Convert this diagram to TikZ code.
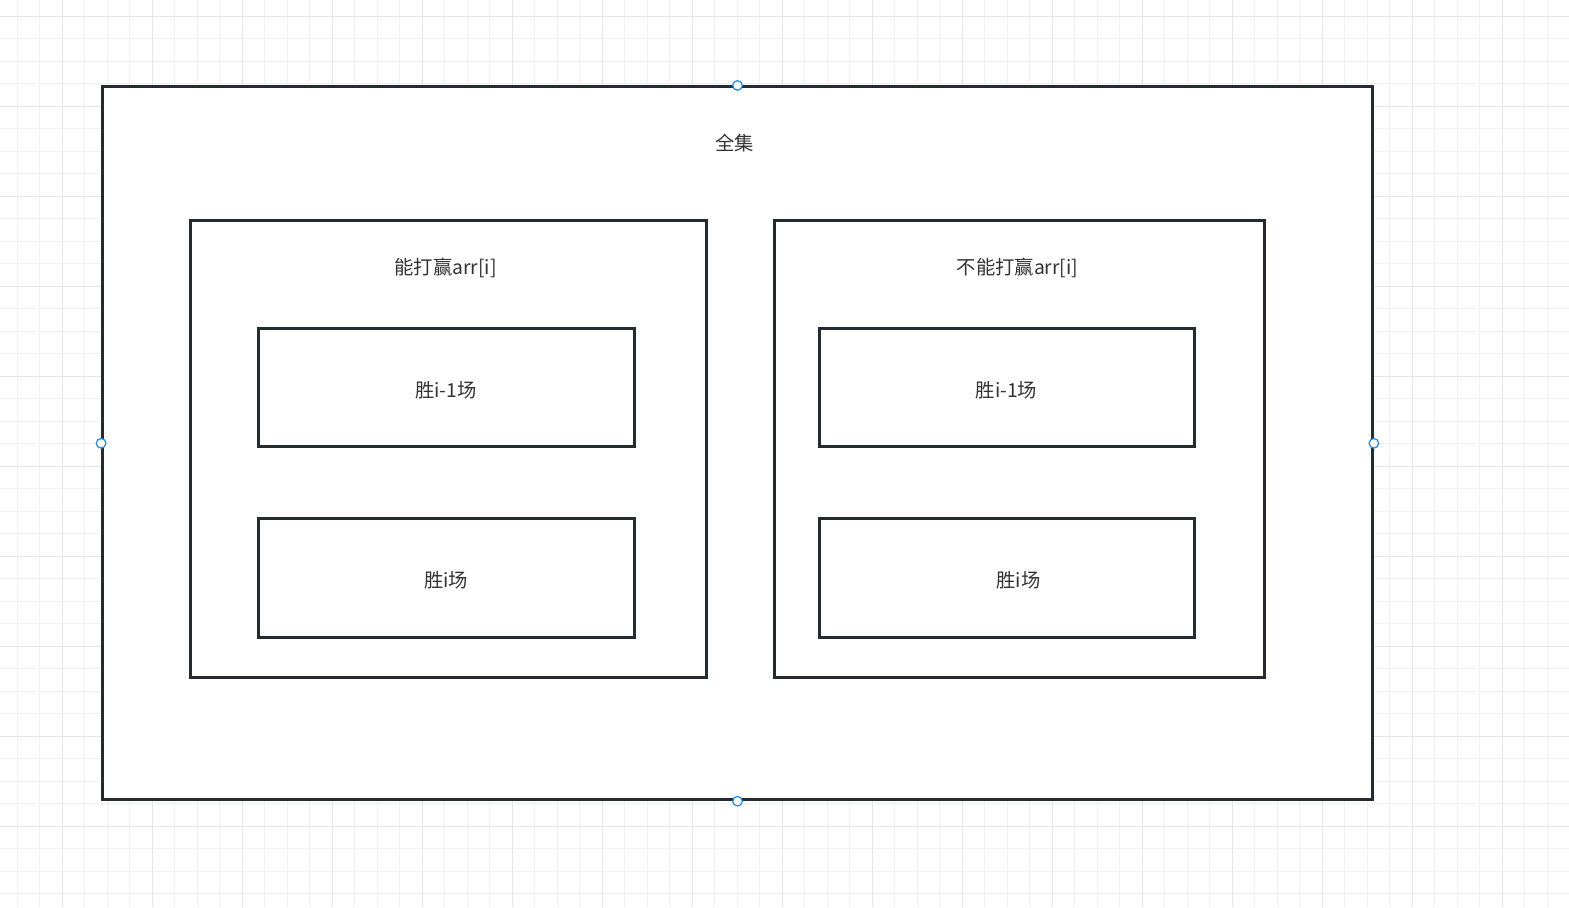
\documentclass[tikz,border=0pt]{standalone}
\usepackage{fontspec}
\setmainfont{Noto Sans CJK SC}
\definecolor{frame}{HTML}{252B31}
\definecolor{ink}{HTML}{333333}
\definecolor{gridminor}{HTML}{F1F1F1}
\definecolor{gridmajor}{HTML}{E6E6E6}
\definecolor{handleblue}{HTML}{1E88E5}
\begin{document}
\begin{tikzpicture}[x=0.75pt,y=-0.75pt,font=\fontsize{14.5}{17}\selectfont,text=ink,
  box/.style 2 args={draw=frame,fill=white,line width=2.1pt,inner sep=0pt,
    minimum width=#1*0.75pt,minimum height=#2*0.75pt},
  handle/.style={circle,draw=handleblue,fill=white,line width=0.9pt,inner sep=0pt,minimum size=7.2pt}]
  \useasboundingbox (0,0) rectangle (1569,907);
  % background grid
  \foreach \i in {0,...,69} \draw[gridminor,line width=0.75pt] ({17.3+22.5*\i},0) -- ++(0,907);
  \foreach \i in {0,...,40} \draw[gridminor,line width=0.75pt] (0,{16+22.5*\i}) -- ++(1569,0);
  \foreach \i in {0,...,16} \draw[gridmajor,line width=0.75pt] ({62.3+90*\i},0) -- ++(0,907);
  \foreach \i in {0,...,10} \draw[gridmajor,line width=0.75pt] (0,{16+90*\i}) -- ++(1569,0);
  % sets
  \node[box={1270}{713}] (all) at (737.5,443.3) {};
  \node[box={516}{457}] (win) at (448.5,449.3) {};
  \node[box={490}{457}] (lose) at (1019.5,449.3) {};
  \node[box={376}{118}] (winA) at (446.5,387.8) {};
  \node[box={376}{119}] (winB) at (446.5,578.3) {};
  \node[box={375}{118}] (loseA) at (1007,387.8) {};
  \node[box={375}{119}] (loseB) at (1007,578.3) {};
  % labels
  \node (allt) at (734.5,143) {全集};
  \node (wint) at (445.5,268) {能打赢arr[i]};
  \node (loset) at (1017.5,268) {不能打赢arr[i]};
  \node (winAt) at (446,390) {胜i-1场};
  \node (winBt) at (446,580) {胜i场};
  \node (loseAt) at (1006.5,390) {胜i-1场};
  \node (loseBt) at (1018.5,580) {胜i场};
  % selection handles
  \foreach \s in {north,south,west,east} \node[handle] (h-\s) at (all.\s) {};
\end{tikzpicture}
\end{document}
